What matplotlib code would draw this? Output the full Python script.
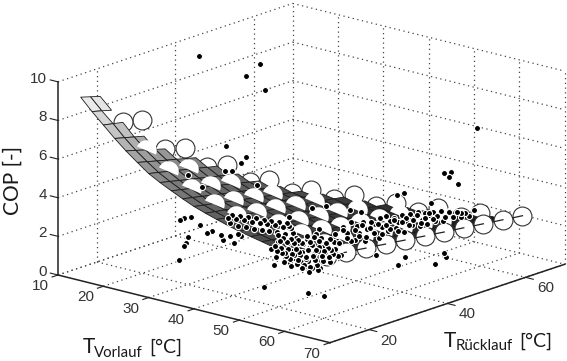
import matplotlib
matplotlib.use("Agg")
import matplotlib.pyplot as plt
import numpy as np
from matplotlib.colors import Normalize
from matplotlib.path import Path
from mpl_toolkits.mplot3d import proj3d
from mpl_toolkits.mplot3d.art3d import Poly3DCollection

surface_tv = [15, 17.5, 20, 22.5, 25, 27.5, 30, 32.5, 35, 37.5, 40, 42.5, 45, 47.5, 50, 52.5, 55, 57.5, 60, 62.5, 65]
surface_tr = [10, 12.5, 15, 17.5, 20, 22.5, 25, 27.5, 30, 32.5, 35, 37.5, 40, 42.5, 45, 47.5, 50, 52.5, 55, 57.5, 60, 62.5, 65]
surface_cop = [
    [9.50, 9.35, 9.20],
    [8.90, 8.77, 8.63, 8.50],
    [8.35, 8.25, 8.15, 8.04, 7.94],
    [7.80, 7.67, 7.54, 7.41, 7.28, 7.15],
    [7.30, 7.16, 7.01, 6.87, 6.73, 6.58, 6.44],
    [6.85, 6.72, 6.59, 6.46, 6.34, 6.21, 6.08, 5.95],
    [6.42, 6.31, 6.19, 6.08, 5.96, 5.85, 5.73, 5.62, 5.50],
    [6.10, 5.99, 5.87, 5.76, 5.65, 5.53, 5.42, 5.31, 5.19, 5.08],
    [5.82, 5.71, 5.60, 5.48, 5.37, 5.26, 5.15, 5.04, 4.92, 4.81, 4.70],
    [5.55, 5.45, 5.34, 5.24, 5.13, 5.03, 4.92, 4.82, 4.71, 4.61, 4.50, 4.40],
    [5.30, 5.20, 5.11, 5.01, 4.91, 4.81, 4.72, 4.62, 4.52, 4.42, 4.33, 4.23, 4.13],
    [5.10, 5.01, 4.93, 4.84, 4.75, 4.67, 4.58, 4.49, 4.40, 4.32, 4.23, 4.14, 4.06, 3.97],
    [4.92, 4.84, 4.76, 4.68, 4.60, 4.52, 4.44, 4.36, 4.28, 4.20, 4.12, 4.04, 3.96, 3.88, 3.80],
    [4.75, 4.67, 4.59, 4.52, 4.44, 4.36, 4.28, 4.20, 4.13, 4.05, 3.97, 3.89, 3.81, 3.74, 3.66, 3.58],
    [4.60, 4.52, 4.45, 4.37, 4.29, 4.22, 4.14, 4.06, 3.99, 3.91, 3.83, 3.75, 3.68, 3.60, 3.52, 3.45, 3.37],
    [4.47, 4.40, 4.32, 4.25, 4.17, 4.10, 4.02, 3.95, 3.87, 3.80, 3.72, 3.65, 3.57, 3.50, 3.42, 3.35, 3.27, 3.20],
    [4.35, 4.28, 4.21, 4.13, 4.06, 3.99, 3.92, 3.85, 3.78, 3.70, 3.63, 3.56, 3.49, 3.42, 3.35, 3.27, 3.20, 3.13, 3.06],
    [4.22, 4.15, 4.08, 4.01, 3.94, 3.87, 3.80, 3.73, 3.66, 3.59, 3.53, 3.46, 3.39, 3.32, 3.25, 3.18, 3.11, 3.04, 2.97, 2.90],
    [4.12, 4.05, 3.98, 3.92, 3.85, 3.78, 3.71, 3.64, 3.58, 3.51, 3.44, 3.37, 3.30, 3.24, 3.17, 3.10, 3.03, 2.96, 2.90, 2.83, 2.76],
    [4.05, 3.98, 3.92, 3.85, 3.78, 3.72, 3.65, 3.58, 3.52, 3.45, 3.38, 3.32, 3.25, 3.18, 3.12, 3.05, 2.98, 2.92, 2.85, 2.78, 2.72, 2.65],
    [3.98, 3.92, 3.85, 3.79, 3.72, 3.66, 3.59, 3.53, 3.46, 3.40, 3.33, 3.27, 3.20, 3.14, 3.07, 3.01, 2.95, 2.88, 2.82, 2.75, 2.69, 2.62, 2.56],
]
# how far the drawn mesh reaches in T_Ruecklauf for each row
surface_tr_max = [15, 15, 12.5, 15, 17.5, 20, 25, 27.5, 30, 32.5, 35, 37.5, 40, 42.5, 45, 47.5, 50, 52.5, 55, 57.5, 60]

# isolated measurements
point_tv = [10, 20, 20, 20, 52, 50, 50, 50, 50, 40, 40, 25, 25, 25, 30, 30, 30, 30, 30, 30, 30, 30, 30, 30, 30, 30, 30, 30, 30, 30,
            50, 60, 60, 60, 60, 60, 60, 60, 60, 30, 30, 35, 35, 40, 45, 50, 45, 45, 50, 45, 50, 55, 55, 60, 60]
point_tr = [46.1, 46.5, 50.1, 51.4, 68.4, 62.4, 64.2, 63.5, 66, 61.8, 63.6, 35.5, 39.3, 40.6, 17.8, 18.1, 19.1, 20.9, 23.2, 24.8, 26.3, 20.1, 19.6, 19.1, 28.4, 28.9, 30.7, 32.8, 31.7, 33.5,
            16.4, 16, 20.1, 33.3, 40.7, 38.9, 48.5, 50.8, 51.3, 20.1, 23.7, 23.6, 25.4, 26.2, 34.5, 38.2, 28.6, 28.6, 30.3, 37.9, 41.1, 39.9, 53.3, 55.2, 58.5]
point_cop = [8.92, 8.44, 8.81, 7.38, 6.13, 4.09, 4.02, 3.81, 3.27, 2.41, 2.39, 5.84, 4.70, 4.93, 1.42, 3.47, 3.51, 3.44, 2.87, 2.35, 2.35, 2.46, 2.18, 2.06, 1.99, 1.70, 1.79, 1.76, 1.36, 1.60,
             1.28, 1.58, 1.15, 2.38, 1.78, 1.49, 0.89, 1.31, 1.06, 5.67, 4.80, 5.93, 5.81, 5.32, 3.87, 3.80, 3.79, 3.30, 3.35, 3.74, 3.50, 3.56, 3.44, 3.08, 3.02]

# dense clouds, each at one T_Vorlauf
band_60_tr = [24, 25, 26, 27, 28, 28.5, 29, 30, 30.5, 31, 32, 32.5, 33, 34, 34.5, 35, 36, 36.5, 37, 38, 38.5, 39, 40, 40.5, 41, 42, 42.5, 43, 44, 44.5, 45, 46, 46.5, 47, 48, 48.5, 49, 50, 50.5, 51, 52, 53, 54, 55, 56, 57]
band_60_cop = [3.6, 4.4, 4.0, 4.5, 3.5, 4.2, 3.8, 4.3, 3.3, 3.9, 4.2, 3.6, 4.0, 3.2, 4.2, 3.7, 4.2, 3.4, 3.9, 4.0, 3.4, 3.7, 4.0, 3.1, 3.6, 3.9, 3.3, 3.7, 3.9, 3.1, 3.4, 3.7, 3.1, 3.5, 3.6, 3.1, 3.3, 3.5, 3.0, 3.2, 3.4, 3.0, 3.2, 2.9, 3.0, 2.8]
band_45_tr = [13, 13.5, 14, 15, 15.5, 16, 17, 17.5, 18, 19, 19.5, 20, 21, 21.5, 22, 23, 23.5, 24, 25, 25.5, 26, 27, 27.5, 28, 29, 29.5]
band_45_cop = [4.8, 4.5, 4.9, 4.6, 4.2, 4.7, 4.4, 4.0, 4.5, 4.2, 3.8, 4.3, 4.0, 3.6, 4.1, 3.8, 3.4, 3.9, 3.6, 3.2, 3.7, 3.4, 3.0, 3.5, 3.2, 2.9]
blob_55_tr = [14.2, 13.4, 15.1, 15.3, 14.8, 16.2, 15.6, 17.4, 16.7, 18.1, 17.3, 19.2, 18.6, 19.8, 18.9, 20.3, 21.4, 20.6, 22.1, 21.2, 20.8, 21.9, 23.3, 22.7, 24.2, 23.6, 22.9, 24.4, 25.1, 24.7, 26.2, 25.6, 24.9, 27.3, 26.8, 28.1, 27.4, 29.2, 28.6, 30.1,
              14.6, 13.9, 16.4, 15.8, 17.1, 18.3, 17.8, 19.1, 20.2, 19.4, 21.3, 20.7, 22.4, 21.8, 23.1, 22.3, 24.5, 23.9, 25.3, 24.1, 26.4, 25.8, 27.1, 28.3, 27.7, 29.4]
blob_55_cop = [4.4, 3.9, 3.4, 4.2, 3.7, 3.2, 2.9, 4.0, 3.5, 3.1, 2.6, 3.8, 3.4, 3.0, 2.6, 2.3, 3.9, 3.5, 3.1, 2.7, 2.3, 2.0, 3.7, 3.3, 2.9, 2.5, 2.1, 1.9, 3.5, 3.1, 2.7, 2.3, 2.0, 3.3, 2.9, 2.5, 2.1, 3.1, 2.7, 2.3,
               4.1, 3.6, 3.9, 3.4, 3.0, 3.7, 3.2, 2.8, 3.6, 3.2, 2.8, 2.4, 3.5, 3.1, 2.7, 2.2, 3.4, 3.0, 2.6, 2.2, 3.2, 2.8, 2.4, 3.1, 2.7, 2.3]
band_62_tr = [20, 21, 22, 23, 24, 25, 26, 27, 28, 29, 30, 31, 32, 33, 34, 35, 36, 37, 38, 39, 40, 41, 42, 43, 44, 45, 46, 47, 48, 49]
band_62_cop = [4.5, 4.0, 4.6, 4.1, 3.9, 4.4, 4.0, 4.5, 3.8, 4.2, 3.9, 4.3, 3.7, 4.1, 3.8, 4.2, 3.6, 4.0, 4.1, 3.7, 3.9, 4.1, 3.6, 3.8, 4.0, 3.6, 3.7, 3.9, 3.5, 3.7]
blob_52_tr = [15.2, 16.4, 17.1, 18.3, 18.8, 19.6, 20.7, 21.2, 22.4, 23.1, 24.3, 25.2, 26.1, 27.3, 28.2, 16.1, 17.7, 19.2, 20.1, 21.6, 22.8, 24.6, 26.7]
blob_52_cop = [3.5, 3.0, 3.7, 3.2, 2.7, 3.5, 3.0, 2.6, 3.3, 2.8, 3.4, 2.9, 2.5, 3.2, 2.7, 2.6, 3.3, 2.9, 2.4, 3.6, 2.3, 2.2, 3.5]

x_ticks = [10, 20, 30, 40, 50, 60, 70]
y_ticks = [20, 40, 60]
z_ticks = [0, 2, 4, 6, 8, 10]

W, H = 567, 361
fig = plt.figure(figsize=(W / 100, H / 100), dpi=100)
ax = fig.add_axes([0.05, -0.2, 0.8, 0.8 * W / H], projection="3d", computed_zorder=False, proj_type="ortho")
ax.patch.set_visible(False)
ax.set_box_aspect((1, 1, 0.5615))
ax.view_init(elev=16.76, azim=-49.2)
ax.set_xlim(10, 70, view_margin=0)
ax.set_ylim(10, 70, view_margin=0)
ax.set_zlim(0, 10, view_margin=0)
ax.set_xticks([])
ax.set_yticks([])
ax.set_zticks([])
ax.grid(False)

for axis in (ax.xaxis, ax.yaxis, ax.zaxis):
    axis.set_pane_color((1, 1, 1, 0))
    axis.pane.set_edgecolor((1, 1, 1, 0))
    axis.line.set_color((1, 1, 1, 0))

# dotted grid on the floor and the two back walls
grid_style = dict(color="#444444", linewidth=0.9, linestyle=(0, (1, 2.8)), zorder=0.5)
for t in x_ticks:
    ax.plot([t, t], [10, 70], [0, 0], **grid_style)
    ax.plot([t, t], [70, 70], [0, 10], **grid_style)
for t in y_ticks:
    ax.plot([10, 70], [t, t], [0, 0], **grid_style)
    ax.plot([10, 10], [t, t], [0, 10], **grid_style)
for t in z_ticks:
    ax.plot([10, 10], [10, 70], [t, t], **grid_style)
    ax.plot([10, 70], [70, 70], [t, t], **grid_style)

# axis lines and ticks as the picture has them
axis_style = dict(color="#222222", linewidth=1.1, zorder=1)
tick_style = dict(color="#222222", linewidth=0.8, zorder=1)
ax.plot([10, 70], [10, 10], [0, 0], **axis_style)
ax.plot([70, 70], [10, 70], [0, 0], **axis_style)
ax.plot([10, 10], [10, 10], [0, 10], **axis_style)
for t in x_ticks:
    ax.plot([t, t], [10, 8.5], [0, 0], **tick_style)
for t in y_ticks:
    ax.plot([70, 71.7], [t, t], [0, 0], **tick_style)
for t in z_ticks:
    ax.plot([10, 8.3], [10, 10], [t, t], **tick_style)

# surface
norm = Normalize(2.0, 9.8)
quads, shades = [], []
for i in range(len(surface_tv) - 1):
    for j in range(len(surface_tr) - 1):
        if surface_tr[j + 1] > surface_tr_max[i + 1] or j + 1 >= len(surface_cop[i]):
            continue
        quads.append([(surface_tv[i], surface_tr[j], surface_cop[i][j]),
                      (surface_tv[i], surface_tr[j + 1], surface_cop[i][j + 1]),
                      (surface_tv[i + 1], surface_tr[j + 1], surface_cop[i + 1][j + 1]),
                      (surface_tv[i + 1], surface_tr[j], surface_cop[i + 1][j])])
        shades.append(plt.cm.gray(norm(np.mean([surface_cop[i][j], surface_cop[i][j + 1], surface_cop[i + 1][j], surface_cop[i + 1][j + 1]]))))
mesh = Poly3DCollection(quads, facecolors=shades, edgecolors="#1c1c1c", linewidths=0.6, zorder=3)
ax.add_collection3d(mesh)

# model points on the 5 K grid: whole rings at the upper edge and front row, half discs on the mesh
rings, domes, front = [], [], []
for i, tv in enumerate(surface_tv):
    if tv % 5 or tv < 20:
        continue
    for j, tr in enumerate(surface_tr):
        if tr % 5 or tr > tv or tr == 10 and tv < 65:
            continue
        entry = (tv, tr, surface_cop[i][j])
        if tv == 65:
            front.append(entry)
            if tr >= 20:
                # short piece of the mesh row that shows inside the front rings
                ax.plot([tv, tv], [tr - 2.5, tr], [surface_cop[i][j - 1], surface_cop[i][j]], color="#222222", linewidth=0.9, zorder=5.5)
        elif tr >= tv - 5 or tv == 20:
            rings.append(entry)
        else:
            domes.append(entry)
half_disc = Path.wedge(-23, 157)
rings, domes, front = np.array(rings), np.array(domes), np.array(front)
ax.scatter(rings[:, 0], rings[:, 1], rings[:, 2], s=185, c="white", edgecolors="#333333", linewidths=0.8, depthshade=False, zorder=2)
ax.scatter(domes[:, 0], domes[:, 1], domes[:, 2], s=230, marker=half_disc, c="white", linewidths=0, depthshade=False, zorder=4)
ax.scatter(front[:, 0], front[:, 1], front[:, 2], s=185, c="white", edgecolors="#333333", linewidths=0.8, depthshade=False, zorder=5)

# measurements
meas_tv = point_tv + [60] * len(band_60_tr) + [45] * len(band_45_tr) + [55] * len(blob_55_tr) + [62.5] * len(band_62_tr) + [52.5] * len(blob_52_tr)
meas_tr = point_tr + band_60_tr + band_45_tr + blob_55_tr + band_62_tr + blob_52_tr
meas_cop = point_cop + band_60_cop + band_45_cop + blob_55_cop + band_62_cop + blob_52_cop
ax.scatter(meas_tv, meas_tr, meas_cop, s=19, c="black", edgecolors="white", linewidths=0.8, depthshade=False, zorder=6)


def corner_px(x, y, z):
    xs, ys, _ = proj3d.proj_transform(x, y, z, ax.get_proj())
    return ax.transData.transform((xs, ys))


# scale and shift the box so the front edge lands where it is in the picture
want_a = np.array([58.0, H - 275.0])
want_b = np.array([330.0, H - 342.5])
for _ in range(3):
    fig.canvas.draw()
    a, b = corner_px(10, 10, 0), corner_px(70, 10, 0)
    pos = ax.get_position()
    k = np.linalg.norm(want_b - want_a) / np.linalg.norm(b - a)
    side = pos.width * W * k
    cx = pos.x0 * W + pos.width * W / 2
    cy = pos.y0 * H + pos.height * H / 2
    cx2 = want_a[0] - (a[0] - cx) * k
    cy2 = want_a[1] - (a[1] - cy) * k
    ax.set_position([(cx2 - side / 2) / W, (cy2 - side / 2) / H, side / W, side / H])
fig.canvas.draw()

# tick labels sit at a fixed pixel offset from their tick on the projected axis
tick_font = dict(fontsize=11, family="Liberation Sans", color="#333333")


def tick_label(x, y, z, dx, dy, s, ha="center"):
    px = corner_px(x, y, z)
    fig.text((px[0] + dx) / W, (px[1] + dy) / H, s, ha=ha, va="center", **tick_font)


for t in x_ticks:
    tick_label(t, 10, 0, -18, -11, str(t))
for t in y_ticks:
    tick_label(70, t, 0, 20, -11, str(t))
for t in z_ticks:
    tick_label(10, 10, t, -11, 3, str(t), ha="right")


def label(x, y, s, size, rotation=0):
    fig.text(x / W, 1 - y / H, s, fontsize=size, family="Lato", color="#1a1a1a", ha="left", va="baseline", rotation=rotation, rotation_mode="anchor")


label(19, 215, "COP [-]", 15, rotation=90)
label(83, 353, "T", 15)
label(94, 357, "Vorlauf", 10.8)
label(149, 353, "[°C]", 14)
label(444, 347, "T", 15)
label(456, 350, "Rücklauf", 10.8)
label(519, 347, "[°C]", 14)

fig.savefig("out.png", dpi=100)
